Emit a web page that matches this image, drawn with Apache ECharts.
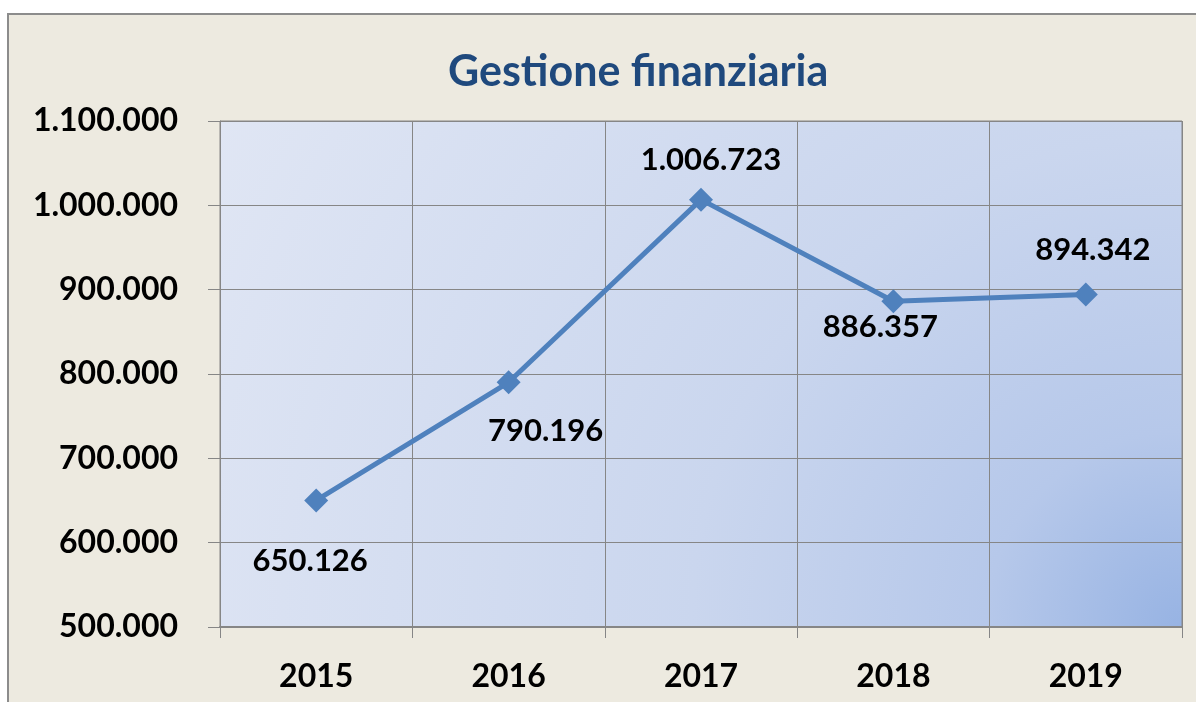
<!DOCTYPE html>
<html>
<head>
<meta charset="utf-8">
<script src="https://cdn.jsdelivr.net/npm/echarts@6/dist/echarts.min.js"></script>
<style>
  html, body { margin: 0; padding: 0; background: #fff; }
  #frame {
    position: absolute; left: 7px; top: 13px;
    width: 1187px; height: 687px;
    border-top: 2px solid #8c8c8c; border-left: 2px solid #8c8c8c;
    background: #edeae0;
  }
  #chart { width: 1187px; height: 687px; }
</style>
</head>
<body>
<div id="frame"><div id="chart"></div></div>
<script>
// chart data
const years = ["2015", "2016", "2017", "2018", "2019"];
const values = [650126, 790196, 1006723, 886357, 894342];

// where each value label sits relative to its point
const labelPlacement = [
  { position: "bottom", distance: 33, offset: [-6, 0] },
  { position: "bottom", distance: 21, offset: [37, 0] },
  { position: "top", distance: 12, offset: [10, 0] },
  { position: "bottom", distance: -2, offset: [-13, 0] },
  { position: "top", distance: 17, offset: [7, 0] },
];

const fmt = (v) => String(Math.round(v)).replace(/\B(?=(\d{3})+(?!\d))/g, ".");

const myChart = echarts.init(document.getElementById("chart"));
myChart.setOption({
  animation: false,
  textStyle: { fontFamily: "Lato" },
  title: {
    text: "Gestione finanziaria",
    left: 434,
    top: 31,
    textStyle: { fontFamily: "Lato", fontWeight: "bold", fontSize: 43, color: "#1f497d" },
  },
  grid: {
    left: 211,
    top: 106,
    right: 14,
    bottom: 75,
    show: true,
    borderColor: "#868686",
    borderWidth: 1,
    backgroundColor: new echarts.graphic.RadialGradient(1, 1, 2.15, [
      { offset: 0, color: "#97b3e3" },
      { offset: 0.18, color: "#b6c8ea" },
      { offset: 0.45, color: "#cad6ee" },
      { offset: 1, color: "#e0e6f4" },
    ]),
  },
  xAxis: {
    type: "category",
    data: years,
    boundaryGap: true,
    axisLine: { lineStyle: { color: "#868686", width: 2 } },
    axisTick: { show: true, length: 11, lineStyle: { color: "#868686" } },
    splitLine: { show: true, lineStyle: { color: "#868686", width: 1 } },
    axisLabel: { margin: 34, fontSize: 32, fontWeight: "bold", color: "#000" },
  },
  yAxis: {
    type: "value",
    min: 500000,
    max: 1100000,
    interval: 100000,
    axisLine: { show: true, lineStyle: { color: "#868686", width: 1 } },
    axisTick: { show: true, length: 12, lineStyle: { color: "#868686" } },
    splitLine: { lineStyle: { color: "#868686", width: 1 } },
    axisLabel: {
      margin: 42,
      fontSize: 32,
      fontWeight: "bold",
      color: "#000",
      formatter: fmt,
    },
  },
  series: [
    {
      type: "line",
      data: values.map((v, i) => ({
        value: v,
        label: labelPlacement[i],
      })),
      symbol: "diamond",
      symbolSize: 24,
      lineStyle: { color: "#4f81bd", width: 5 },
      itemStyle: { color: "#4f81bd" },
      label: {
        show: true,
        fontSize: 31,
        fontWeight: "bold",
        color: "#000",
        formatter: (p) => fmt(p.value),
      },
    },
  ],
});
</script>
</body>
</html>
